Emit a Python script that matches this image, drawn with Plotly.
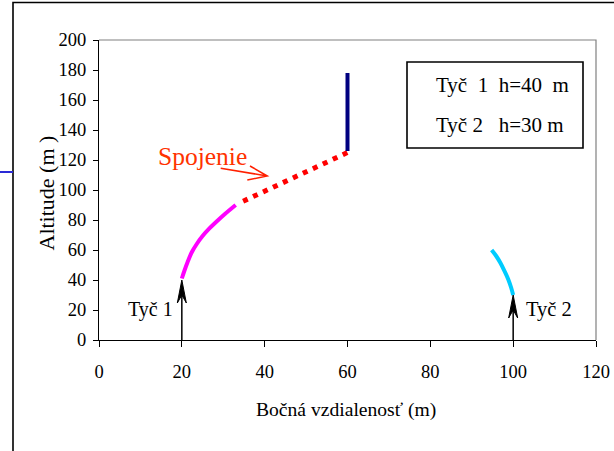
import plotly.graph_objects as go

# ---- data ----
tyc1_x = [20.0, 20.6, 21.4, 22.4, 23.6, 25.0, 26.6, 28.4, 30.4, 33.0]
tyc1_y = [41.0, 46.0, 52.0, 58.5, 64.0, 69.3, 74.2, 79.0, 84.0, 90.0]
spoj_x = [34.8, 60.0]
spoj_y = [92.5, 125.0]
vert_x = [60.0, 60.0]
vert_y = [126.0, 178.0]
tyc2_x = [100.0, 99.5, 98.8, 97.9, 96.9, 95.9, 94.8]
tyc2_y = [30.0, 35.0, 40.5, 46.0, 51.5, 56.0, 60.0]

tower_x = [20, 100]
tower_h = [40, 30]
tower_labels = ["Tyč 1", "Tyč 2"]
legend_lines = ["Tyč\u00a0\u00a01\u00a0\u00a0h=40\u00a0\u00a0m", "Tyč\u00a02\u00a0\u00a0\u00a0h=30\u00a0m"]
spojenie_label = "Spojenie"

x_ticks = [0, 20, 40, 60, 80, 100, 120]
y_ticks = [0, 20, 40, 60, 80, 100, 120, 140, 160, 180, 200]
x_title = "Bočná vzdialenosť (m)"
y_title = "Altitude (m\u00a0)"

# ---- layout geometry ----
W, H = 614, 451
ML, MR, MT, MB = 99, 18, 40, 111
PW, PH = W - ML - MR, H - MT - MB
XR, YR = (0, 120), (0, 200)
ux = PW / (XR[1] - XR[0])   # px per x unit
uy = PH / (YR[1] - YR[0])   # px per y unit

def px2paper_x(px):
    return (px - ML) / PW

def px2paper_y(py):
    return (MT + PH - py) / PH

FONT = "Liberation Serif"

fig = go.Figure()
fig.add_trace(go.Scatter(x=tyc1_x, y=tyc1_y, mode="lines", line=dict(color="#ff00ff", width=4, shape="spline"),
                         showlegend=False, hoverinfo="skip"))
fig.add_trace(go.Scatter(x=spoj_x, y=spoj_y, mode="lines", line=dict(color="#ff0000", width=5, dash="5px,6px"),
                         showlegend=False, hoverinfo="skip"))
fig.add_trace(go.Scatter(x=vert_x, y=vert_y, mode="lines", line=dict(color="#000080", width=4),
                         showlegend=False, hoverinfo="skip"))
fig.add_trace(go.Scatter(x=tyc2_x, y=tyc2_y, mode="lines", line=dict(color="#00ccff", width=4, shape="spline"),
                         showlegend=False, hoverinfo="skip"))

shapes = []
annotations = []

# plot-area top/right gray border
shapes.append(dict(type="path", xref="paper", yref="paper", path="M0,1 L1,1 L1,0",
                   line=dict(color="#808080", width=1.2)))

# outer frame (left + top) and blue stub on the left
shapes.append(dict(type="path", xref="paper", yref="paper",
                   path=f"M{px2paper_x(13)},{px2paper_y(452)} L{px2paper_x(13)},{px2paper_y(2.5)} L{px2paper_x(614)},{px2paper_y(2.5)}",
                   line=dict(color="black", width=1.6)))
shapes.append(dict(type="line", xref="paper", yref="paper",
                   x0=px2paper_x(0), x1=px2paper_x(13), y0=px2paper_y(172), y1=px2paper_y(172),
                   line=dict(color="#2a2ad6", width=2)))

# tower arrows
for tx, th, lab, side in zip(tower_x, tower_h, tower_labels, ["left", "right"]):
    head_len = 23 / uy
    notch = 15 / uy
    half_w = 4.5 / ux
    shapes.append(dict(type="line", xref="x", yref="y", x0=tx, x1=tx, y0=0, y1=th - notch,
                       line=dict(color="black", width=1.5)))
    shapes.append(dict(type="path", xref="x", yref="y",
                       path=f"M{tx},{th} L{tx - half_w},{th - head_len} L{tx},{th - notch} L{tx + half_w},{th - head_len} Z",
                       fillcolor="black", line=dict(color="black", width=1)))
    if side == "left":
        annotations.append(dict(x=tx - 7 / ux, y=(340 - 309) / uy, xref="x", yref="y", text=lab,
                                showarrow=False, xanchor="right", yanchor="middle",
                                font=dict(family=FONT, size=20, color="black")))
    else:
        annotations.append(dict(x=tx + 11 / ux, y=(340 - 309) / uy, xref="x", yref="y", text=lab,
                                showarrow=False, xanchor="left", yanchor="middle",
                                font=dict(family=FONT, size=20.5, color="black")))

# Spojenie label and its arrow
annotations.append(dict(x=px2paper_x(156), y=px2paper_y(156), xref="paper", yref="paper", text=spojenie_label,
                        showarrow=False, xanchor="left", yanchor="middle",
                        font=dict(family=FONT, size=25.5, color="#ff3300")))

def p(px, py):
    return f"{px2paper_x(px)},{px2paper_y(py)}"

shapes.append(dict(type="path", xref="paper", yref="paper",
                   path=f"M{p(220.7,168.3)} L{p(267.3,176)} M{p(250,166)} L{p(267.3,176)} L{p(247.3,180)}",
                   line=dict(color="#ff2000", width=1.5)))

# legend-like box
shapes.append(dict(type="rect", xref="paper", yref="paper",
                   x0=px2paper_x(407), x1=px2paper_x(583), y0=px2paper_y(148), y1=px2paper_y(62),
                   line=dict(color="black", width=1.6), fillcolor="rgba(0,0,0,0)"))
for line_text, cy in zip(legend_lines, [85, 125]):
    annotations.append(dict(x=px2paper_x(434), y=px2paper_y(cy), xref="paper", yref="paper", text=line_text,
                            showarrow=False, xanchor="left", yanchor="middle",
                            font=dict(family=FONT, size=21, color="black")))

# axis titles
annotations.append(dict(x=px2paper_x(345.5), y=px2paper_y(410), xref="paper", yref="paper", text=x_title,
                        showarrow=False, xanchor="center", yanchor="middle",
                        font=dict(family=FONT, size=19.6, color="black")))
annotations.append(dict(x=px2paper_x(45.5), y=px2paper_y(193), xref="paper", yref="paper", text=y_title,
                        showarrow=False, xanchor="center", yanchor="middle", textangle=-90,
                        font=dict(family=FONT, size=22, color="black")))

fig.update_layout(
    width=W, height=H, autosize=False,
    margin=dict(l=ML, r=MR, t=MT, b=MB, pad=0, autoexpand=False),
    paper_bgcolor="white", plot_bgcolor="white",
    shapes=shapes, annotations=annotations,
    showlegend=False,
    font=dict(family=FONT, size=18, color="black"),
)
fig.update_xaxes(range=list(XR), tickvals=x_ticks, ticktext=[str(v) for v in x_ticks], automargin=False,
                 showgrid=False, zeroline=False, showline=True, linecolor="black", linewidth=1.3,
                 ticks="outside", ticklen=6, tickwidth=1.3, tickcolor="black",
                 ticklabelstandoff=9, tickfont=dict(family=FONT, size=18.5, color="black"), fixedrange=True)
fig.update_yaxes(range=list(YR), tickvals=y_ticks, ticktext=[str(v) for v in y_ticks], automargin=False,
                 showgrid=False, zeroline=False, showline=True, linecolor="black", linewidth=1.3,
                 ticks="outside", ticklen=5, tickwidth=1.3, tickcolor="black",
                 ticklabelstandoff=3, tickfont=dict(family=FONT, size=18.5, color="black"), fixedrange=True)

fig.write_html("out.html")
